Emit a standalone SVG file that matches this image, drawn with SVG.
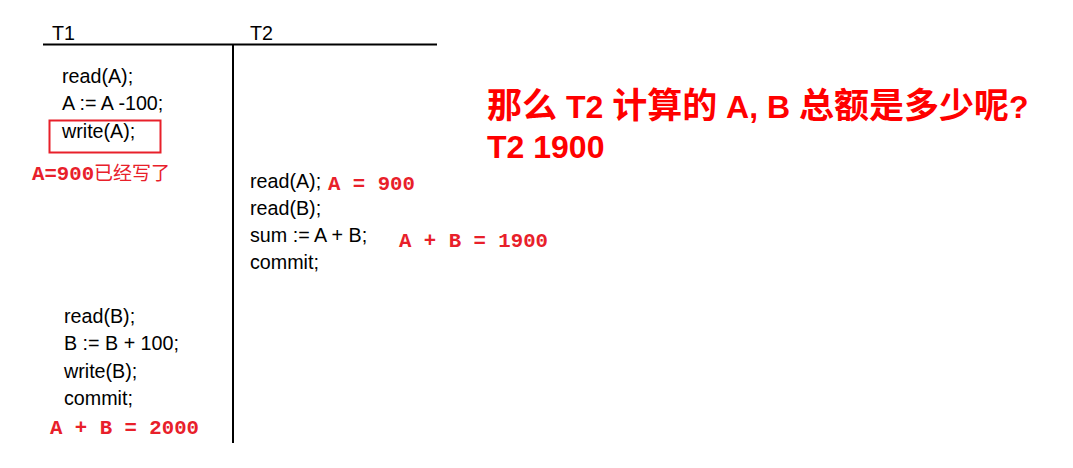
<svg xmlns="http://www.w3.org/2000/svg" width="1073" height="468" viewBox="0 0 1073 468">
<style>
.code{font-family:"Liberation Sans","Open Sans",sans-serif;font-size:19.7px;fill:#000}
.mono{font-family:"Liberation Mono","DejaVu Sans Mono",monospace;font-size:20.7px;font-weight:bold;fill:#e8202a}
.cjk{font-family:"Noto Sans CJK SC",sans-serif;font-size:19px;fill:#e8202a}
.title{font-family:"Liberation Sans","Noto Sans CJK SC",sans-serif;font-size:32px;font-weight:bold;fill:#ff0000}
.tc{font-family:"Noto Sans CJK SC",sans-serif;font-size:35px;font-weight:bold}
.line{stroke:#000;stroke-width:2;fill:none}
</style>
<rect width="1073" height="468" fill="#fff"/>
<g id="connectors">
<line class="line" x1="43" y1="44.5" x2="437" y2="44.5"/>
<line class="line" x1="233" y1="44" x2="233" y2="443"/>
</g>
<g id="headers">
<text class="code" x="52" y="40">T1</text>
<text class="code" x="250" y="40">T2</text>
</g>
<g id="t1-top">
<text class="code" x="62" y="83">read(A);</text>
<text class="code" x="62" y="110">A := A -100;</text>
<text class="code" x="62" y="138">write(A);</text>
<rect x="49.5" y="120.5" width="111" height="32" fill="none" stroke="#e8202a" stroke-width="2"/>
<text x="32" y="180"><tspan class="mono">A=900</tspan><tspan class="cjk">已经写了</tspan></text>
</g>
<g id="t2">
<text class="code" x="250" y="188">read(A);</text>
<text class="code" x="250" y="215">read(B);</text>
<text class="code" x="250" y="242">sum := A + B;</text>
<text class="code" x="250" y="269">commit;</text>
<text class="mono" x="328" y="190">A = 900</text>
<text class="mono" x="399" y="247">A + B = 1900</text>
</g>
<g id="t1-bottom">
<text class="code" x="64" y="323">read(B);</text>
<text class="code" x="64" y="350">B := B + 100;</text>
<text class="code" x="64" y="378">write(B);</text>
<text class="code" x="64" y="405">commit;</text>
<text class="mono" x="50" y="434">A + B = 2000</text>
</g>
<g id="question">
<text class="title" x="487" y="118"><tspan class="tc">那么</tspan> T2 <tspan class="tc">计算的</tspan> A, B <tspan class="tc">总额是多少呢</tspan>?</text>
<text class="title" x="487" y="158">T2 1900</text>
</g>
</svg>
